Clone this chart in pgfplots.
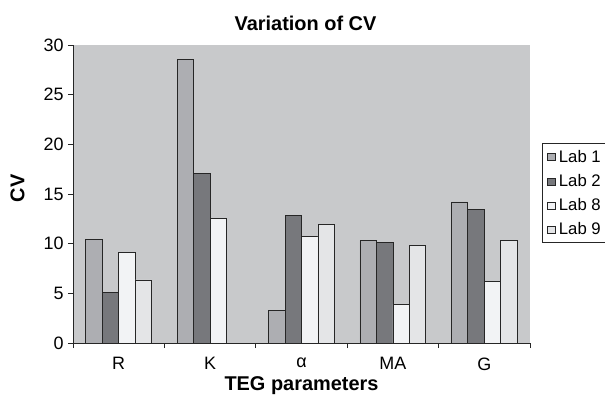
\documentclass[border=0pt]{standalone}
\usepackage{pgfplots}
\pgfplotsset{compat=1.18}
\usepackage{fontspec}
\setmainfont{Liberation Sans}
\definecolor{bgc}{HTML}{C8C9CB}
\definecolor{labA}{HTML}{ADAEB2}
\definecolor{labB}{HTML}{77787C}
\definecolor{labC}{HTML}{F2F3F5}
\definecolor{labD}{HTML}{E4E5E7}
\pgfplotsset{
  labbar/.style={ybar, bar width=0.18, draw=black!85, line width=0.7bp,
    legend image code/.code={\draw[##1, line width=0.6bp] (0bp,-4bp) rectangle (8bp,3bp);}},
}
\begin{document}
\begin{tikzpicture}
\begin{axis}[
  name=ax,
  scale only axis, width=457bp, height=298bp,
  xmin=-0.5, xmax=4.5, ymin=0, ymax=30,
  axis background/.style={fill=bgc},
  axis x line=bottom, axis y line=left,
  axis line style={-, line width=0.8bp, black!85},
  ytick={0,5,...,30},
  xtick={0,...,4}, xticklabels={R,K,α,MA,G},
  major x tick style={draw=none},
  minor xtick={-0.5,0.5,...,4.5},
  minor x tick style={draw=black!85, line width=0.8bp},
  major y tick style={draw=black!85, line width=0.8bp},
  tick align=outside,
  major tick length=5bp, minor tick length=5bp,
  /pgf/number format/assume math mode=true,
  tick label style={font=\fontsize{18}{21}\selectfont},
  yticklabel style={xshift=-1bp},
  xticklabel style={yshift=-6bp},
  title={Variation of CV},
  title style={font=\bfseries\fontsize{20}{24}\selectfont, at={(axis description cs:0.5,1)}, anchor=center, yshift=16bp, xshift=4bp},
  xlabel={TEG parameters},
  xlabel style={font=\bfseries\fontsize{20}{24}\selectfont, at={(axis description cs:0.5,0)}, anchor=center, yshift=-43bp},
  legend style={at={(1.0267,0.671)}, anchor=north west, draw=black!85, line width=0.8bp,
    font=\fontsize{16.8}{19}\selectfont, inner xsep=4bp, inner ysep=6bp, row sep=9.5bp,
    nodes={inner xsep=2.2bp, inner ysep=0.5bp},
    /tikz/every odd column/.append style={column sep=1.5bp}},
  legend cell align=left,
  clip=false,
]
\addplot[labbar, bar shift=-0.27, fill=labA] coordinates {(0,10.45) (1,28.55) (2,3.3) (3,10.3) (4,14.2)};
\addplot[labbar, bar shift=-0.09, fill=labB] coordinates {(0,5.1) (1,17.1) (2,12.87) (3,10.1) (4,13.47)};
\addplot[labbar, bar shift=0.09, fill=labC] coordinates {(0,9.1) (1,12.5) (2,10.7) (3,3.9) (4,6.2)};
\addplot[labbar, bar shift=0.27, fill=labD] coordinates {(0,6.35) (2,11.9) (3,9.85) (4,10.3)};
\legend{Lab 1, Lab 2, Lab 8, Lab 9}
\end{axis}
\node[rotate=90, anchor=center, font=\bfseries\fontsize{20}{24}\selectfont]
  at ([shift={(-55.5bp,154.5bp)}]ax.south west) {CV};
\pgfresetboundingbox
\path ([shift={(-73bp,-59bp)}]ax.south west) rectangle ([shift={(75bp,45bp)}]ax.north east);
\end{tikzpicture}
\end{document}
